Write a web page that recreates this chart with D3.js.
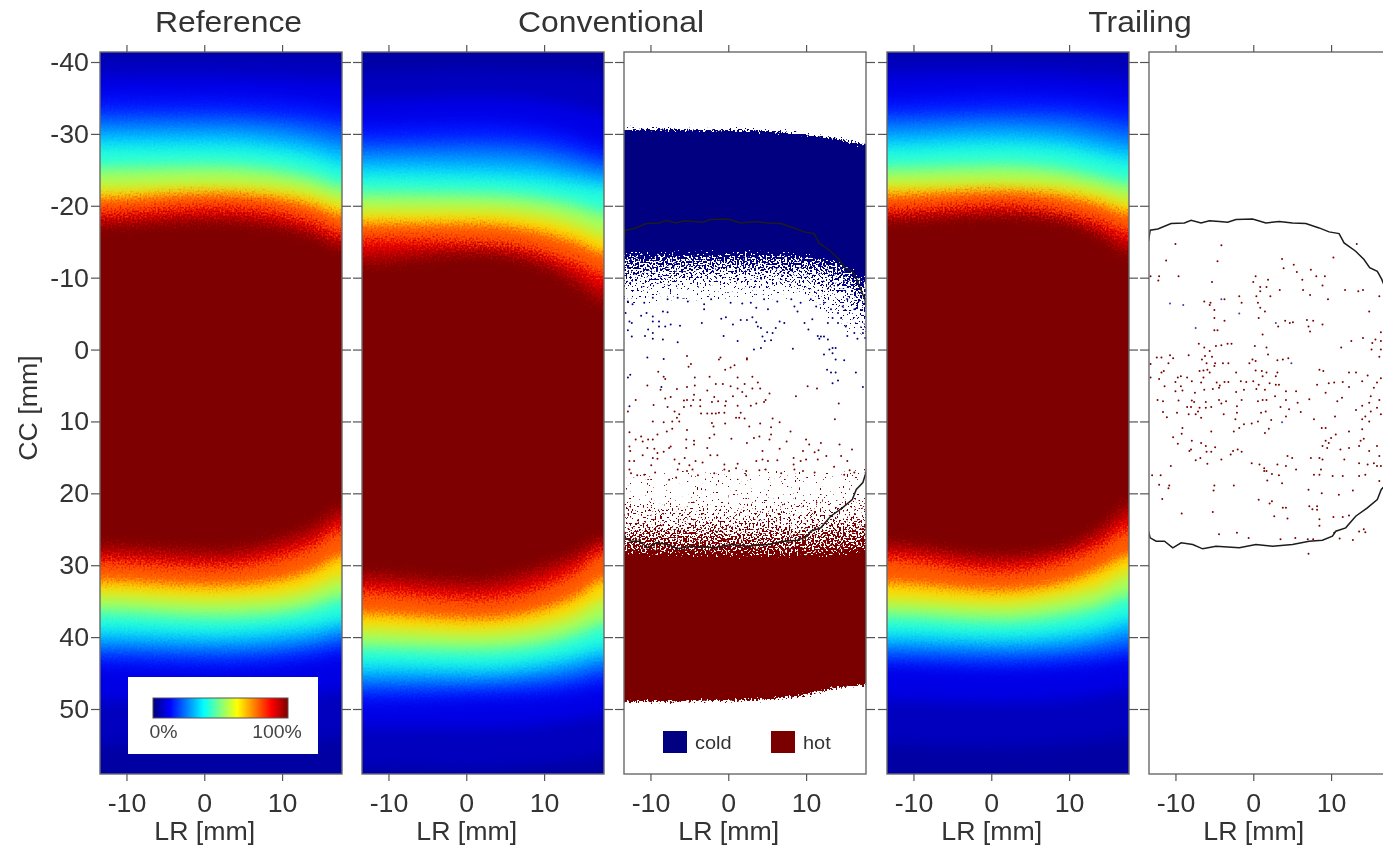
<!DOCTYPE html>
<html>
<head>
  <meta charset="utf-8">
  <script src="https://d3js.org/d3.v7.min.js"></script>
  <style>
    html, body { margin: 0; padding: 0; background: #fff; overflow: hidden; }
    svg { display: block; filter: blur(0.7px); }
    text { font-family: "Liberation Sans", Arial, sans-serif; fill: #333; }
  </style>
</head>
<body>
<script>
/*
  Values. CC and LR in mm.
  The heat maps are iso-level contours: one row per level, one value per lrCols entry.
*/
var titles = ["Reference", "Conventional", "Trailing"];
var yTicks = [-40, -30, -20, -10, 0, 10, 20, 30, 40, 50];
var xTicks = [-10, 0, 10];
var jetDomain = [0, 0.125, 0.375, 0.625, 0.875, 1];
var jetRange = ["#00007f", "#0000ff", "#00ffff", "#ffff00", "#ff0000", "#7f0000"];
var baseLevel = 0.035;
var levels = [0.05, 0.09, 0.125, 0.19, 0.25, 0.31, 0.375, 0.5, 0.625, 0.75, 0.875, 0.94, 1];
var grainyFrom = 9;
var lrCols = [-14, 1, 9, 14, 18];

var refTop = [
  [-41.0,-41.0,-40.9,-40.8,-40.6],[-38.1,-38.1,-37.8,-37.6,-37.3],[-35.2,-35.2,-34.9,-34.4,-33.8],
  [-33.0,-33.0,-32.5,-32.0,-31.3],[-31.3,-31.3,-30.9,-30.0,-29.2],[-29.8,-29.8,-29.2,-28.4,-27.4],
  [-28.2,-28.2,-27.7,-26.7,-25.5],[-25.2,-25.5,-24.9,-23.9,-22.7],[-22.5,-22.9,-22.5,-21.6,-20.4],
  [-20.6,-21.3,-20.7,-19.6,-18.2],[-19.1,-19.9,-19.2,-17.8,-16.3],[-18.1,-18.8,-18.1,-16.7,-15.2],
  [-17.1,-17.7,-17.0,-15.6,-13.9]];
var refBot = [
  [54.9,55.4,54.9,54.5,54.0],[48.7,49.1,48.7,48.1,47.3],[44.1,44.5,44.1,43.4,42.7],
  [42.6,43.0,42.6,41.9,41.2],[41.4,41.7,41.4,40.8,39.9],[40.2,40.6,40.2,39.5,38.7],
  [38.9,39.4,38.9,38.4,37.6],[36.4,37.1,36.7,35.7,34.5],[34.1,34.8,34.4,33.2,31.6],
  [31.7,32.4,31.7,30.2,28.2],[29.6,30.3,29.2,27.4,25.0],[28.4,29.1,27.8,25.9,23.4],
  [27.1,27.8,26.4,24.3,21.8]];
var convTop = [
  [-38.9,-39.2,-38.9,-38.7,-38.2],[-34.8,-35.2,-34.8,-33.8,-32.8],[-31.3,-31.7,-31.0,-29.8,-28.5],
  [-29.1,-29.3,-28.8,-27.7,-26.6],[-27.4,-27.5,-27.0,-25.9,-25.0],[-25.9,-25.7,-25.3,-24.3,-23.6],
  [-24.3,-24.1,-23.6,-22.9,-22.4],[-21.7,-21.6,-21.0,-20.0,-18.9],[-19.2,-19.2,-18.5,-17.2,-15.7],
  [-17.1,-17.0,-16.0,-14.5,-12.9],[-15.4,-15.0,-13.9,-12.1,-10.4],[-13.6,-14.2,-12.9,-10.6,-8.3],
  [-11.8,-13.2,-11.8,-9.0,-6.3]];
var convBot = [
  [58.1,58.4,57.9,57.3,56.7],[52.6,52.6,52.2,51.5,50.8],[49.1,48.7,48.3,47.6,46.9],
  [47.6,47.3,46.9,46.2,45.3],[46.3,46.2,45.6,44.8,43.8],[45.1,45.2,44.5,43.5,42.6],
  [43.8,44.1,43.4,42.4,41.3],[41.3,41.7,41.0,39.6,38.1],[38.9,39.4,38.5,36.9,34.8],
  [36.3,37.0,35.9,33.9,31.4],[33.8,34.8,33.4,31.0,28.2],[32.4,33.4,31.7,29.5,27.1],
  [31.0,32.0,30.2,28.1,26.0]];
var trailTop = [
  [-41.0,-41.0,-40.9,-40.8,-40.6],[-38.2,-38.5,-38.2,-37.8,-37.6],[-34.9,-35.5,-35.2,-34.8,-34.2],
  [-32.8,-33.2,-33.0,-32.3,-31.7],[-31.2,-31.6,-31.2,-30.3,-29.5],[-29.5,-30.0,-29.5,-28.5,-27.8],
  [-28.0,-28.5,-28.0,-27.0,-26.1],[-25.2,-25.6,-25.0,-23.9,-23.1],[-22.9,-23.1,-22.7,-21.7,-20.6],
  [-21.1,-21.6,-20.9,-19.7,-18.4],[-19.5,-20.2,-19.2,-17.8,-16.4],[-18.6,-19.3,-18.5,-16.7,-14.7],
  [-17.8,-18.5,-17.8,-15.6,-13.2]];
var trailBot = [
  [54.9,55.4,54.9,54.5,54.0],[48.7,49.1,48.7,48.1,47.3],[44.1,44.5,44.2,43.7,43.1],
  [43.0,43.4,43.0,42.5,41.9],[41.7,42.0,41.7,41.0,40.3],[40.6,41.0,40.6,39.8,38.7],
  [39.4,40.0,39.4,38.5,37.3],[37.0,37.7,36.9,35.7,34.2],[34.8,35.5,34.4,33.0,31.0],
  [32.0,33.1,32.0,30.0,28.1],[29.2,30.9,29.5,27.4,25.0],[27.9,29.6,28.4,26.0,23.1],
  [26.8,28.5,27.4,24.6,21.3]];

/* under/over-dose regions of the Conventional difference map */
var coldEdge = [-30.6, -30.5, -30.0, -29.3, -28.5];
var hotEdge = [49.0, 48.8, 48.2, 47.0, 46.7];
var stippleGray = [0.31, 0.39, 0.45, 0.51, 0.57, 1];
var coldRows = [
  [-5.6,-6.3,-6.3,-2.8,0.0],[-8.1,-8.6,-8.3,-5.6,-2.1],[-9.5,-10.0,-9.7,-8.1,-4.9],
  [-10.8,-11.4,-11.1,-9.7,-7.0],[-12.2,-12.5,-12.1,-11.1,-8.3],[-13.9,-13.9,-13.6,-12.8,-10.4]];
var hotRows = [
  [16.5,16.0,16.0,16.0,15.5],[21.6,21.6,21.4,21.2,20.8],[23.9,23.9,23.7,23.5,23.0],
  [25.5,25.5,25.3,25.0,24.6],[27.1,27.1,27.0,26.7,26.3],[28.9,29.2,29.2,29.0,28.6]];

/* single voxels in the sparse part of the Conventional map, [LR, CC] */
var convColdDots = [
  [-12.7,-3.9],[-12.4,-3.7],[-12.9,-2.7],[-12.4,-1.8],[-13.2,-5.1],[-11.2,-4.7],[-10.5,-5.1],[-9.7,-4.6],[-9.7,-3.9],[-8.9,-3.9],
  [-8.4,-5.3],[-7.8,-5.2],[-8.9,-3.2],[-8.1,-3.2],[-7.4,-3.5],[-6.2,-3.3],[-9.7,-2.3],[-10.3,-2.8],[-10.7,-1.9],[-9.7,-1.5],
  [-8.4,-1.4],[-6.5,-1],[-3.1,-5.6],[-3.4,-3.7],[-0.9,-4.3],[-0.3,-4.5],[0.6,-3.5],[1.6,-4.1],[2.4,-4.1],[3.1,-4.5],
  [3.6,-3.8],[3.8,-3.2],[4.2,-3],[5,-2.4],[5.7,-2.3],[4.4,-1.8],[5.5,-1.3],[4.7,-1.2],[3.3,0],[4.2,-0.2],
  [-0.6,-1.9],[1.2,-1.2],[6.6,-3.9],[7.2,-3.7],[6.1,-3],[8.3,-0.1],[9.8,-3.7],[10.3,-2.8],[10.8,-4.2],[11.5,-1.9],
  [11.9,-1.8],[12.3,-1.8],[12.8,-1.4],[11.7,-1.5],[13,0],[13.4,-0.2],[13.8,-0.2],[13.4,0.5],[12.3,0.7],[13.8,1.4],
  [14.9,1.5],[12.7,2.8],[13.2,3.2],[13.8,3.2],[14.1,4.3],[13.4,4.7],[16.4,3.2],[17.3,5.2],[14.5,-4.4],[15.1,-3.2],
  [16.2,-2.3],[16.6,-1.5],[15.3,-1.9],[17.3,-2.3],[17.6,-1.6],[-12.7,7.9],[-12.9,3.9],[-12.6,3.5],[-10.4,1.1],[-8.3,1.3],
  [-8.6,5.2],[8.1,-7],[8.5,-6],[9.3,-6.5],[8.9,-5.3],[10.6,-7],[11.3,-6],[12.3,-6.5],[13.2,-5.6],[14.1,-5.1],
  [14.7,-6],[15.3,-7],[16.2,-5.6],[13.4,-4.4],[14.1,-3.7],[12.8,-3.7],[-12.9,-6.7],[-12.3,-6.3],[-10.8,-6.5],[-9.7,-7.2],
  [-7.8,-7],[-6.5,-7.2],[-5.2,-6.7],[-3.1,-6.3],[-2.2,-7],[0.3,-6.5],[1.8,-6.4],[2.9,-6.5],[3.6,-5.8],[4.6,-7],
  [5.1,-5.6],[6.3,-6.7]];
var convHotDots = [
  [-5.3,0.9],[-1.2,1.4],[-1,1.1],[2.4,1.2],[2.4,1.4],[-4.8,2],[-5.1,2.4],[-0.4,2.8],[0.3,2.5],[0.8,2.2],
  [-9,3.1],[-8.3,3.8],[-8.1,4.1],[-4.3,3.9],[-2.4,3.8],[1.2,3.9],[3.1,3.8],[-10.4,5],[-8.7,5.6],[-6.6,5.5],
  [-5.3,5.2],[-4.3,5],[-1.6,4.8],[-0.7,4.8],[0.3,5.1],[1.2,5.4],[2.1,4.8],[3.1,5.4],[3.8,4.6],[4.1,5.4],
  [-2.7,5.7],[1.8,5.9],[5.3,6.1],[10.2,5.1],[11.4,5.4],[-11.9,7],[-8.1,6.8],[-7.4,6.6],[-5.3,7],[-5.7,7.1],
  [-4.4,6.3],[-4.5,7],[-3.6,7],[-1.8,6.6],[-1.3,7.2],[-0.3,7.2],[0.6,6.5],[2.3,6.5],[4.8,7],[8.7,6.5],
  [14.2,7.5],[-9.6,7.7],[-7.8,8],[-5.7,8],[-4.8,7.8],[-3.6,7.9],[-2.1,7.3],[-0.4,7.8],[1.2,7.8],[2.9,7.8],
  [3.6,7.5],[4.6,7.3],[-12.9,8.6],[-9.7,10],[-6.9,8.6],[-6.3,9],[-6.3,10],[-7.2,10],[-6.6,9.5],[-7.2,11],
  [-8.3,10.1],[-7.9,11.4],[-5.3,11.2],[-3.5,8.9],[-2.7,8.9],[-2.1,8.9],[-1.6,8.9],[-1.2,8.8],[-0.5,8.8],[-2.1,10.2],
  [-1.9,10.7],[-0.4,10.3],[1,9.5],[1.4,9.5],[2.1,9.6],[1.6,8.8],[2.7,10.7],[4.1,10.3],[5.7,9.6],[6.6,10.1],
  [5.5,10.8],[5.5,11.8],[5.3,12.5],[8,11.4],[13.7,9.7],[-12.7,11.5],[-11.9,12.5],[-11.2,12.1],[-11,12.8],[-10.3,12.5],
  [-9.7,12.5],[-9.1,11.8],[-5.4,12.5],[-4.4,12.7],[-1.8,11.8],[-2.4,12.3],[0.4,12.4],[2.4,13],[3.3,12.3],[4,12.1],
  [7.5,12.8],[10,12.5],[10.4,13.2],[11.9,13],[14.3,13.2],[-12.7,13.5],[-12.6,14.1],[-10.4,13.7],[-9.5,13.8],[-9.1,14.4],
  [-8.3,14.2],[-7.6,13.7],[-7.4,13.5],[-4.4,13.2],[-5.4,13.7],[-2.7,13.7],[4.4,14.1],[6.6,13.8],[9.6,14.1],[11.1,14.3],
  [11.6,14],[15.9,13.9],[-12.7,15.5],[-12.1,15.5],[-11,14.7],[-9.7,15.1],[-9.1,15.2],[-6.9,15.3],[-6.3,15.9],[-5.6,15.1],
  [-5,16.1],[-4.2,15.5],[-3.3,15.7],[-2.3,14.7],[-1.4,14.7],[-0.5,16],[1.2,15.9],[1,16.5],[3.6,15.5],[4.4,15.3],
  [5.1,15.5],[6.3,15.4],[8.4,15.1],[9.3,15.5],[10,15.3],[11.5,15.3],[12.6,14.8],[14.5,14.8],[15.3,15.5],[13.6,16.3],
  [16.2,17.1],[15.6,16.8],[-12.7,16.7],[-12.5,17.2],[-11.7,17.5],[-10.8,17.4],[-9.9,16.1],[-9.4,17.1],[-7.6,18.1],[-6.7,17.8],
  [-6.5,16.7],[-5.3,16.9],[-4.6,16.7],[-3.9,17.5],[-1.8,17.2],[-0.5,16.7],[0.1,16.9],[2.3,16.9],[2.3,17.5],[4,16.8],
  [4.8,16.7],[6.8,17.2],[8.5,16.7],[9.6,16.9],[11.1,17.1],[8.4,16],[14.9,17.4]];

/* Trailing map voxels */
var trailColdDots = [[-4.1,-7],[-10.7,-6.4],[-9,-6.2],[-1.8,-5],[-7.4,-3],[2.9,-3.7],[4.9,1.9],[3.7,10.1]];
var trailHotDots = [
  [-10,-14.7],[-4.1,-14.5],[-11.2,-12.4],[-4.6,-12.3],[3.7,-12.6],[10.3,-12.8],[13.3,-14.7],[-13.2,-10.2],[-12.1,-10.2],[-9.6,-10.2],
  [-12.2,-9.6],[-5.3,-9.4],[0.3,-10.2],[0,-9.4],[1.9,-9.7],[3.9,-11.3],[5.2,-11.8],[5.6,-10.8],[7.4,-11.1],[6.3,-9.7],
  [8.1,-10.2],[9.2,-10.2],[8.9,-8.9],[0.9,-8.7],[1.7,-8.7],[0.9,-8.1],[3.4,-8.3],[6.4,-8.3],[11.8,-8.3],[13.5,-8.1],
  [14.1,-8.3],[2.2,-7.4],[0.4,-7.4],[7.3,-7.6],[9.6,-7],[16.2,-7.4],[-3.7,-7],[-6.3,-6.7],[-5.5,-6.5],[-5.6,-6.2],
  [-1.8,-7.4],[-1.5,-6.5],[0.6,-6.5],[0.9,-5.8],[1.5,-5.3],[-5,-5.5],[14.9,-5.3],[-5,-4.4],[-3.7,-4],[0.7,-4.4],
  [4.1,-4],[4.7,-3.7],[5.1,-3.8],[6.9,-4.1],[7.7,-4],[7.1,-3.2],[7.3,-2.5],[8.9,-3.5],[3.2,-3.2],[-5,-2.7],
  [-4.6,-2.7],[1.2,-2.1],[14.1,-1.6],[12.6,-1.2],[16.4,-2.4],[15.7,-1.4],[15.3,-0.9],[16.4,-1.2],[-7,-0.8],[-6.3,-0.3],
  [-3.3,-0.8],[-2.8,-0.8],[-4.1,-0.6],[-4.8,-0.5],[0.2,-0.5],[1.7,-0.3],[11.3,-0.3],[-5.6,0.2],[1.9,0.7],[15.2,0],
  [16.4,0],[16.2,1],[-12.4,1.1],[-11.8,1.1],[-10.7,0.8],[-10.3,1.2],[-8.3,0.8],[-10.9,1.9],[-13.2,2],[-6.2,0.9],
  [-5.3,1],[-6.6,1.4],[-6,1.9],[-4.9,1.9],[-5,2.3],[-3.9,1.9],[-3.2,1.9],[-6.9,3],[-5.9,2.8],[-5.6,3.2],
  [-6.4,2.9],[-11.5,3],[-11.8,3.2],[-9.3,3.7],[-9.7,3.9],[-10,4.5],[-13.2,3.9],[-12.1,4.1],[-11.4,5.1],[-8.5,3.9],
  [-7.9,4.4],[-9.3,5.1],[-9.1,5.7],[-10,5.8],[-7.5,6],[-6.7,4.6],[-6.4,3.9],[-5.2,5.5],[-4.7,4.6],[-4.3,5],
  [-3.7,4.5],[-3.2,4.5],[-4.4,5.3],[-2.2,3.2],[-1.6,4.4],[-0.9,4.5],[-1.2,5.6],[-2.2,5.9],[-6.3,5.6],[-12.3,7],
  [-11.6,7.2],[-9.6,7.1],[-7.9,7.1],[-7.6,7.3],[-6.1,7.3],[-4.4,7],[-4.1,7.5],[-3.5,7.2],[-8.5,8],[-8,8],
  [-6.9,8.1],[-7.1,8.6],[-7.4,9],[-6.7,9.5],[-6.1,8.1],[-5.4,8],[-11.6,8.7],[-9.8,8.8],[-8.3,9],[-11.1,9.4],
  [-3.8,9],[-2.1,7.9],[-1.5,7],[-2.1,8.8],[-2.3,9.7],[-0.5,1.9],[-0.1,1.4],[0.3,1.6],[0.3,2.9],[1.1,3],
  [1.7,3.2],[1.2,3.7],[3.1,1.5],[3.8,1.4],[4.5,1.2],[3.1,3.2],[2.9,3.7],[0,4.4],[0.7,4.9],[0.4,5.5],
  [1.5,5.6],[2.1,4.7],[2.9,4.9],[3.3,4.9],[4.2,5.8],[5.5,5.8],[2.8,6.5],[0.6,7.2],[1.2,7],[1.7,7],
  [4.2,7],[3.5,8],[1,8.8],[1.6,8.6],[4.2,9.3],[2.3,9.8],[0.6,10],[-0.2,10.3],[1.5,11.6],[2,11],
  [-1.2,10.4],[-1.8,10.9],[-2.5,11.4],[-5.4,11.4],[5.7,7.4],[4.6,8.3],[6.1,8.7],[7.2,6.9],[8.2,4.9],[8.5,2.8],
  [9,3],[9.3,6],[9.7,4.7],[10.4,4.6],[11.5,4.5],[10.8,7.2],[11.4,6.7],[12.3,3.2],[13.2,3.2],[12.3,5.2],
  [14,4.4],[14.7,3.6],[7.8,9.7],[10.5,9.3],[13.2,8.4],[14,7.8],[15.5,5.3],[15.9,4.6],[16.4,4],[15.1,6.5],
  [16.2,7],[14.9,7.4],[15.9,8.1],[15.1,8.6],[16.4,9],[14,9.7],[14.4,9.3],[14.9,10],[14,11.1],[14.2,12.4],
  [13.8,12.7],[12.3,11.4],[13.6,13.4],[11.2,13.9],[9.7,13],[9.3,12.7],[8.9,13.4],[9.5,13.7],[8.8,10.9],[9.3,10.9],
  [10.6,11.8],[10,12.3],[12.3,13.7],[14.9,14.1],[15.9,13.4],[16.2,14.8],[15.5,15.8],[14.7,16],[13.6,15.8],[15.9,16.2],
  [16.4,16.2],[14.4,17.4],[13.6,17.6],[11.7,15.3],[8.9,15.3],[8.5,15.1],[7.4,15.1],[5.5,16.7],[5,15.1],[4.4,14.8],
  [4.2,16.2],[8.5,17.4],[7.8,17.4],[11.5,17.6],[8.7,16.7],[10.2,17.6],[16.2,18.3],[-8.2,14.1],[-8,13.9],[-6.7,13],
  [-6.1,13.4],[-6,14.2],[-4.9,13.6],[-5.4,14.2],[-2.9,14.6],[-2.6,14.1],[-2,13.9],[-1.5,14.2],[-4.1,15.3],[-6.8,15.1],
  [-5.9,15.9],[-7.4,15.4],[-10.6,16.2],[-10.3,12.2],[-9.7,13.1],[-9.2,11.7],[-9.1,10.9],[-7.9,12.7],[-13,17.5],[-11.9,17.5],
  [-12.1,18.8],[-10.8,18.9],[-10.9,19.3],[-5,18.9],[-5.1,19.6],[-2.5,18.9],[-11.7,20.8],[-9.2,22.8],[-5.2,22.6],[-4.4,25.7],
  [-2.1,25.5],[-0.6,26.2],[0.7,20.9],[2.4,21.1],[2.1,21.4],[2.7,23.2],[3.8,22],[4.2,22],[4.4,23.5],[-0.2,15.8],
  [0.8,16],[1.4,16.5],[1.4,16.9],[1.7,16.9],[2.4,17.3],[3.1,16],[3.3,17.5],[1.8,18.2],[3.7,18.6],[7.1,19.5],
  [8.8,20],[11,20.2],[12.8,19.6],[7.2,21.8],[8.2,21.8],[7.6,22.2],[8.2,22.3],[8.5,23.6],[8.5,24.5],[10.3,23.3],
  [11.5,23.3],[12.3,23.1],[13.6,25.3],[14.2,25],[14.4,25.4],[11.1,26.3],[12.8,26.5],[10.4,25.5],[3.5,26.4],[5.4,26.2],
  [7,26.4],[7.7,26.4],[7.1,28.4]];

/* target outline, same in both difference maps, [LR, CC] */
var outline = [
  [-13.46,-15.07],[-13.25,-16.6],[-12.26,-16.78],[-10.56,-17.52],[-8.85,-17.62],[-7.99,-17.99],[-6.71,-17.62],[-5.64,-17.9],
  [-4.36,-17.8],[-3.29,-17.71],[-2.22,-18.08],[-0.09,-18.17],[1.62,-17.62],[3.33,-17.8],[5.04,-17.62],[6.75,-17.52],
  [8.46,-16.92],[9.74,-16.37],[11.03,-16.13],[11.67,-14.84],[13.16,-13.68],[14.23,-12.52],[14.96,-11.4],[15.94,-10.89],
  [16.5,-9.8],[17.55,-6.95],[18.4,-3],[18.4,15],[17.7,17.1],[17.3,18.5],[16.45,19.47],[15.94,20.86],
  [14.66,22.02],[13.16,23.18],[11.88,24.8],[10.6,25.27],[10.17,25.96],[8.89,26.52],[7.18,26.66],[5.04,27.12],
  [2.48,27.35],[0.34,27.12],[-1.79,27.58],[-4.79,27.35],[-6.5,27.72],[-7.78,27.12],[-9.27,26.89],[-10.34,27.58],
  [-11.41,26.66],[-12.48,26.66],[-13.25,26.19],[-13.46,25.27]];

var legendNames = ["cold", "hot"];
var colorbarLabels = ["0%", "100%"];

/* layout */
var width = 1383, height = 847;
var panelX = [100, 362, 624, 887, 1149];
var panelW = 242, panelTop = 52, panelBottom = 774;
var coldColor = "#000080", hotColor = "#7a0000";

var jet = d3.scaleLinear().domain(jetDomain).range(jetRange);
var x = d3.scaleLinear().domain([-13.4, 17.7]).range([0, panelW]);
var y = d3.scaleLinear().domain([-40, 50]).range([62, 709]);

var svg = d3.select("body").append("svg")
    .attr("width", width)
    .attr("height", height);
var defs = svg.append("defs");

defs.append("clipPath").attr("id", "panelClip")
  .append("rect")
    .attr("x", 0).attr("y", panelTop)
    .attr("width", panelW).attr("height", panelBottom - panelTop);

/* grain of the dose maps: blur the contour bands, then scatter pixels */
function addGrain(id, seed, blur, freq, scale) {
  var f = defs.append("filter").attr("id", id)
      .attr("filterUnits", "userSpaceOnUse")
      .attr("x", -40).attr("y", 20).attr("width", panelW + 80).attr("height", 800)
      .attr("color-interpolation-filters", "sRGB");
  f.append("feGaussianBlur").attr("in", "SourceGraphic").attr("stdDeviation", blur).attr("result", "b");
  f.append("feTurbulence").attr("type", "fractalNoise").attr("baseFrequency", freq)
      .attr("numOctaves", 1).attr("seed", seed).attr("result", "n");
  f.append("feDisplacementMap").attr("in", "b").attr("in2", "n").attr("scale", scale)
      .attr("xChannelSelector", "R").attr("yChannelSelector", "G");
}

/* dense voxels of the difference map: threshold a density layer against noise */
function addStipple(id, seed, color) {
  var f = defs.append("filter").attr("id", id)
      .attr("filterUnits", "userSpaceOnUse")
      .attr("x", -40).attr("y", 20).attr("width", panelW + 80).attr("height", 800)
      .attr("color-interpolation-filters", "sRGB");
  f.append("feGaussianBlur").attr("in", "SourceGraphic").attr("stdDeviation", 4).attr("result", "b");
  f.append("feTurbulence").attr("type", "fractalNoise").attr("baseFrequency", 0.52)
      .attr("numOctaves", 1).attr("seed", seed).attr("result", "n0");
  f.append("feColorMatrix").attr("in", "n0").attr("type", "matrix")
      .attr("values", "1 0 0 0 0 1 0 0 0 0 1 0 0 0 0 0 0 0 0 1").attr("result", "n");
  f.append("feComposite").attr("in", "b").attr("in2", "n").attr("operator", "arithmetic")
      .attr("k1", 0).attr("k2", 1).attr("k3", 1).attr("k4", -1).attr("result", "s");
  f.append("feColorMatrix").attr("in", "s").attr("type", "matrix")
      .attr("values", "0 0 0 0 0 0 0 0 0 0 0 0 0 0 0 40 0 0 0 0").attr("result", "mask");
  f.append("feFlood").attr("flood-color", color).attr("result", "ink");
  f.append("feComposite").attr("in", "ink").attr("in2", "mask").attr("operator", "in");
}

addGrain("grainSoft", 3, 7, 0.5, 7);
addGrain("grainHard", 7, 4.5, 0.55, 26);
addStipple("coldStipple", 5, coldColor);
addStipple("hotStipple", 9, hotColor);

/* pad a row of contour values so it runs past the panel sides */
function rowPoints(topRow, botRow) {
  var pts = lrCols.map(function (lr, i) {
    return { lr: lr, top: topRow[i], bot: botRow[i] };
  });
  pts.unshift({ lr: -24, top: topRow[0], bot: botRow[0] });
  pts.push({ lr: 28, top: topRow[topRow.length - 1], bot: botRow[botRow.length - 1] });
  return pts;
}

var bandArea = d3.area()
    .x(function (d) { return x(d.lr); })
    .y0(function (d) { return y(d.top); })
    .y1(function (d) { return y(d.bot); })
    .curve(d3.curveMonotoneX);

/* a band spans one contour to the next, so its colour sits part way between them */
function bandColor(i) {
  var next = i + 1 < levels.length ? levels[i + 1] : levels[i];
  return jet(levels[i] + (next - levels[i]) * 0.3);
}

function drawHeat(g, top, bot) {
  var clipped = g.append("g").attr("clip-path", "url(#panelClip)");
  var soft = clipped.append("g").attr("filter", "url(#grainSoft)");
  soft.append("rect")
      .attr("x", -60).attr("y", 0)
      .attr("width", panelW + 120).attr("height", height)
      .attr("fill", jet(baseLevel));
  soft.selectAll("path")
    .data(levels)
    .join("path")
      .attr("d", function (d, i) { return bandArea(rowPoints(top[i], bot[i])); })
      .attr("fill", function (d, i) { return bandColor(i); });
  /* the hot end is much noisier than the blue end */
  clipped.append("g").attr("filter", "url(#grainHard)")
    .selectAll("path")
    .data(levels.slice(grainyFrom))
    .join("path")
      .attr("d", function (d, i) { return bandArea(rowPoints(top[i + grainyFrom], bot[i + grainyFrom])); })
      .attr("fill", function (d, i) { return bandColor(i + grainyFrom); });
}

function drawStipple(g, filterId, rows, makeRow) {
  var inner = g.append("g").attr("filter", "url(#" + filterId + ")");
  inner.append("rect")
      .attr("x", -60).attr("y", 0)
      .attr("width", panelW + 120).attr("height", height)
      .attr("fill", "#000");
  inner.selectAll("path")
    .data(stippleGray)
    .join("path")
      .attr("d", function (d, i) { return bandArea(makeRow(rows[i])); })
      .attr("fill", function (d) { return d3.rgb(255 * d, 255 * d, 255 * d); });
}

function drawDots(g, dots, color) {
  g.append("g").selectAll("circle")
    .data(dots)
    .join("circle")
      .attr("cx", function (d) { return x(d[0]); })
      .attr("cy", function (d) { return y(d[1]); })
      .attr("r", 1)
      .attr("fill", color);
}

function drawOutline(g) {
  g.append("path")
      .attr("d", d3.line()
        .x(function (d) { return x(d[0]); })
        .y(function (d) { return y(d[1]); })(outline))
      .attr("fill", "none")
      .attr("stroke", "#1c1c1c")
      .attr("stroke-width", 1.5);
}

var panels = panelX.map(function (px) {
  return svg.append("g").attr("transform", "translate(" + px + ",0)");
});

/*
  Dose maps
*/
drawHeat(panels[0], refTop, refBot);
drawHeat(panels[1], convTop, convBot);
drawHeat(panels[3], trailTop, trailBot);

/*
  Conventional difference map
*/
var convClip = panels[2].append("g").attr("clip-path", "url(#panelClip)");
convClip.append("rect")
    .attr("x", 0).attr("y", panelTop)
    .attr("width", panelW).attr("height", panelBottom - panelTop)
    .attr("fill", "#fff");
drawStipple(convClip, "coldStipple", coldRows, function (row) { return rowPoints(coldEdge, row); });
drawStipple(convClip, "hotStipple", hotRows, function (row) { return rowPoints(row, hotEdge); });
drawDots(convClip, convColdDots, coldColor);
drawDots(convClip, convHotDots, hotColor);
drawOutline(convClip);

/*
  Trailing difference map
*/
var trailClip = panels[4].append("g").attr("clip-path", "url(#panelClip)");
trailClip.append("rect")
    .attr("x", 0).attr("y", panelTop)
    .attr("width", panelW).attr("height", panelBottom - panelTop)
    .attr("fill", "#fff");
drawDots(trailClip, trailHotDots, hotColor);
drawDots(trailClip, trailColdDots, "#3a3ab0");
drawOutline(trailClip);

/*
  Frames and axes
*/
var tickColor = "#555";
panels.forEach(function (g, i) {
  g.append("rect")
      .attr("x", 0).attr("y", panelTop)
      .attr("width", panelW).attr("height", panelBottom - panelTop)
      .attr("fill", "none")
      .attr("stroke", "#6a6a6a")
      .attr("stroke-width", 1.4);

  var axes = [
    { a: d3.axisLeft(y).tickValues(yTicks).tickSize(9), t: "translate(0,0)", labels: i === 0 },
    { a: d3.axisRight(y).tickValues(yTicks).tickSize(9), t: "translate(" + panelW + ",0)", labels: false },
    { a: d3.axisTop(x).tickValues(xTicks).tickSize(7), t: "translate(0," + panelTop + ")", labels: false },
    { a: d3.axisBottom(x).tickValues(xTicks).tickSize(7), t: "translate(0," + panelBottom + ")", labels: true }
  ];
  axes.forEach(function (ax, k) {
    ax.a.tickFormat(ax.labels ? String : "");
    var ag = g.append("g").attr("transform", ax.t).call(ax.a);
    ag.select(".domain").remove();
    ag.selectAll("line").attr("stroke", tickColor).attr("stroke-width", 1.2);
    ag.selectAll("text")
        .style("font-size", "25px")
        .attr("fill", null);
    if (k === 3) {
      ag.selectAll("text").attr("y", 0).attr("dy", null)
        .attr("transform", "translate(0,38) scale(1.07,1)");
    }
    if (k === 0 && ax.labels) {
      ag.selectAll("text").attr("x", 0).attr("dy", "0.34em")
        .attr("transform", "translate(-11,0) scale(1.07,1)");
    }
  });

  g.append("text")
      .attr("transform", "translate(" + (x(0) + 0.5) + ",840) scale(1.07,1)")
      .attr("text-anchor", "middle")
      .style("font-size", "25px")
      .text("LR [mm]");
});

svg.append("text")
    .attr("transform", "translate(37,408) rotate(-90) scale(1.07,1)")
    .attr("text-anchor", "middle")
    .style("font-size", "25px")
    .text("CC [mm]");

/*
  Titles
*/
var titleX = [228.5, 611, 1140];
svg.selectAll(".title")
  .data(titles)
  .join("text")
    .attr("class", "title")
    .attr("transform", function (d, i) { return "translate(" + titleX[i] + ",32) scale(1.1,1)"; })
    .attr("text-anchor", "middle")
    .style("font-size", "29px")
    .text(function (d) { return d; });

/*
  Colour bar
*/
var grad = defs.append("linearGradient").attr("id", "jetGrad");
grad.selectAll("stop")
  .data(jetDomain)
  .join("stop")
    .attr("offset", function (d) { return d; })
    .attr("stop-color", function (d) { return jet(d); });
var cb = panels[0].append("g").attr("transform", "translate(-100,0)");
cb.append("rect")
    .attr("x", 128).attr("y", 677).attr("width", 190).attr("height", 77)
    .attr("fill", "#fff");
cb.append("rect")
    .attr("x", 153).attr("y", 698).attr("width", 135).attr("height", 20)
    .attr("fill", "url(#jetGrad)")
    .attr("stroke", "#555");
cb.selectAll(".cbLabel")
  .data(colorbarLabels)
  .join("text")
    .attr("class", "cbLabel")
    .attr("transform", function (d, i) { return "translate(" + [163.5, 277][i] + ",738) scale(1.08,1)"; })
    .attr("text-anchor", "middle")
    .style("font-size", "18px")
    .style("fill", "#444")
    .text(function (d) { return d; });

/*
  cold / hot legend
*/
var lg = panels[2].append("g").attr("transform", "translate(-624,0)");
lg.selectAll("rect")
  .data(legendNames)
  .join("rect")
    .attr("x", function (d, i) { return [663, 771][i]; })
    .attr("y", 731)
    .attr("width", 24)
    .attr("height", 22)
    .attr("fill", function (d, i) { return [coldColor, hotColor][i]; });
lg.selectAll("text")
  .data(legendNames)
  .join("text")
    .attr("transform", function (d, i) { return "translate(" + [695, 803][i] + ",749) scale(1.08,1)"; })
    .style("font-size", "18.5px")
    .text(function (d) { return d; });
</script>
</body>
</html>
